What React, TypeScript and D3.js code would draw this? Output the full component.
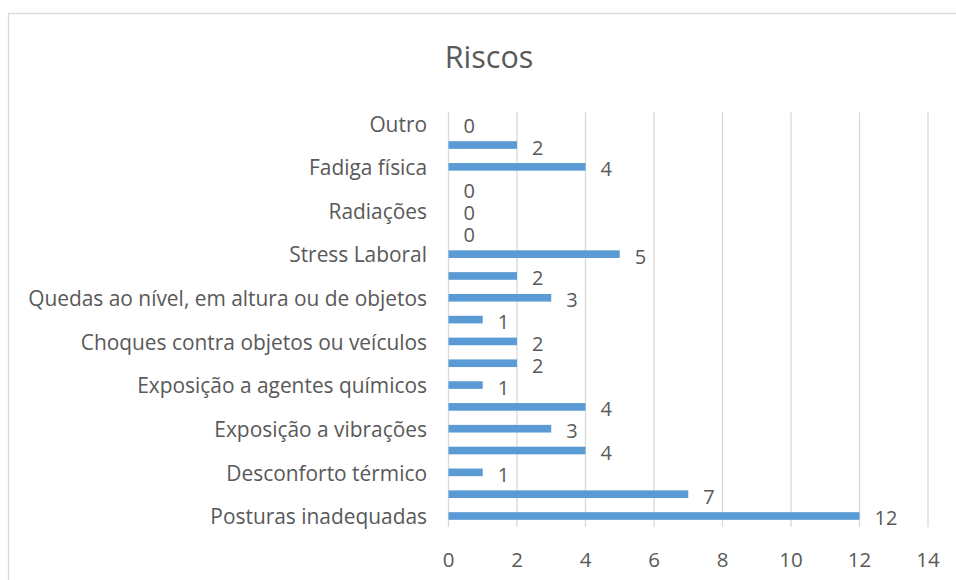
import React from 'react';
import * as d3 from 'd3';

// bottom to top, as in the chart (only every second label is legible in the source)
const categories = [
  'Posturas inadequadas',
  'Movimentos repetitivos',
  'Desconforto térmico',
  'Ruído',
  'Exposição a vibrações',
  'Iluminação inadequada',
  'Exposição a agentes químicos',
  'Exposição a agentes biológicos',
  'Choques contra objetos ou veículos',
  'Cortes',
  'Quedas ao nível, em altura ou de objetos',
  'Entalamentos',
  'Stress Laboral',
  'Eletricidade',
  'Radiações',
  'Incêndio ou explosão',
  'Fadiga física',
  'Fadiga visual',
  'Outro',
];
const values = [12, 7, 1, 4, 3, 4, 1, 2, 2, 1, 3, 2, 5, 0, 0, 0, 4, 2, 0];
const xTicks = [0, 2, 4, 6, 8, 10, 12, 14];
const title = 'Riscos';

const W = 956;
const H = 580;
const font = "'Open Sans', 'Noto Sans', sans-serif";
const textColor = '#595959';
const gridColor = '#d9d9d9';
const barColor = '#5b9bd5';

const App: React.FC = () => {
  const x = d3.scaleLinear().domain([0, 14]).range([448.5, 928]);
  const y = d3
    .scaleBand<string>()
    .domain(categories)
    .range([526.9, 112.3])
    .paddingInner(0.65)
    .paddingOuter(0.325);

  const bw = y.bandwidth();

  return (
    <svg
      width={W}
      height={H}
      style={{ position: 'absolute', left: 0, top: 0, background: '#fff' }}
      fontFamily={font}
    >
      <rect x={8.5} y={13.5} width={1200} height={1200} fill="#fff" stroke={gridColor} strokeWidth={1.3} />

      <text x={489} y={67.5} textAnchor="middle" fontSize={30.5} fill={textColor}>
        {title}
      </text>

      {xTicks.map(t => (
        <g key={t}>
          <line x1={x(t)} x2={x(t)} y1={112.3} y2={526.9} stroke={gridColor} strokeWidth={1.3} />
          <text x={x(t)} y={566.5} textAnchor="middle" fontSize={20.5} fill={textColor}>
            {t}
          </text>
        </g>
      ))}

      {categories.map((c, i) => {
        const top = y(c) as number;
        const cy = top + bw / 2;
        return (
          <g key={c}>
            <rect x={x(0)} y={top} width={x(values[i]) - x(0)} height={bw} fill={barColor} />
            <text x={x(values[i]) + 15} y={cy + 9.5} fontSize={20} fill={textColor}>
              {values[i]}
            </text>
            {i % 2 === 0 && (
              <text x={427} y={cy + 8.3} textAnchor="end" fontSize={20.9} fill={textColor}>
                {c}
              </text>
            )}
          </g>
        );
      })}
    </svg>
  );
};

export default App;
